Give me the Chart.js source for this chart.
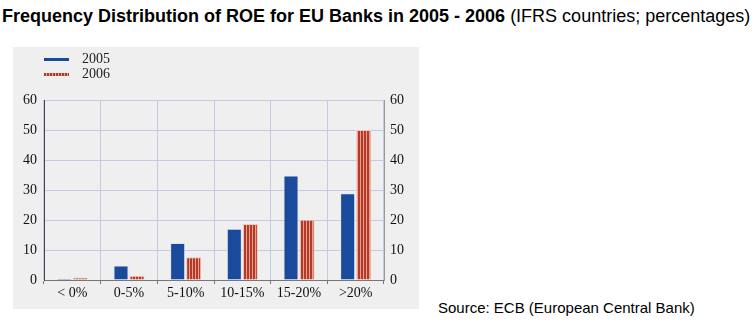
<!DOCTYPE html>
<html>
<head>
<meta charset="utf-8">
<script src="https://cdn.jsdelivr.net/npm/chart.js@4.4.0/dist/chart.umd.min.js"></script>
<style>
  html, body { margin: 0; padding: 0; background: #fff; }
  body { width: 756px; height: 330px; position: relative; overflow: hidden; font-family: "Liberation Sans", Arial, sans-serif; }
  #title { position: absolute; left: 2px; top: 6px; font-size: 18px; white-space: nowrap; color: #000; }
  #title b { font-weight: bold; }
  #panel { position: absolute; left: 13px; top: 47px; width: 406px; height: 262px; background: #efefef; }
  #chart { position: absolute; left: 0; top: 0; }
  .leg { position: absolute; left: 31px; font-family: "Liberation Serif", "Times New Roman", serif; font-size: 14px; color: #222; }
  .leg span { display: inline-block; width: 25px; height: 3px; vertical-align: middle; margin-right: 13px; }
  #source { position: absolute; left: 438px; top: 299px; font-size: 15px; color: #000; }
</style>
</head>
<body>
<div id="title"><b>Frequency Distribution of ROE for EU Banks in 2005 - 2006</b> (IFRS countries; percentages)</div>
<div id="panel">
  <canvas id="chart" width="406" height="262"></canvas>
  <div class="leg" style="top:4px"><span style="background:#1a4a9c"></span>2005</div>
  <div class="leg" style="top:19px"><span style="background:repeating-linear-gradient(90deg,#b23a2a 0 2px,#eaa08a 2px 3px)"></span>2006</div>
</div>
<div id="source">Source: ECB (European Central Bank)</div>
<script>
// categories and values
const categories = ['< 0%', '0-5%', '5-10%', '10-15%', '15-20%', '>20%'];
const roe2005 = [0.5, 4.8, 12.3, 17.1, 34.8, 28.9];
const roe2006 = [0.8, 1.4, 7.6, 18.7, 20.1, 50];
const yTicks = [0, 10, 20, 30, 40, 50, 60];

// vertical stripes for the 2006 bars
function stripePattern() {
  const c = document.createElement('canvas');
  c.width = 3; c.height = 4;
  const g = c.getContext('2d');
  g.fillStyle = '#eaa08a';
  g.fillRect(0, 0, 3, 4);
  g.fillStyle = '#b23a2a';
  g.fillRect(0, 0, 2, 4);
  return g.createPattern(c, 'repeat');
}

const tickFont = { family: '"Liberation Serif", "Times New Roman", serif', size: 14 };
const ctx = document.getElementById('chart').getContext('2d');

new Chart(ctx, {
  type: 'bar',
  data: {
    labels: categories,
    datasets: [{
      label: '2005',
      data: roe2005,
      backgroundColor: '#1a4a9c',
      borderColor: '#dfe6f2',
      borderWidth: 1,
      yAxisID: 'y'
    }, {
      label: '2006',
      data: roe2006,
      backgroundColor: stripePattern(),
      borderColor: '#f3c8b8',
      borderWidth: 1,
      yAxisID: 'y'
    }]
  },
  options: {
    responsive: false,
    animation: false,
    categoryPercentage: 0.565,
    barPercentage: 0.94,
    layout: { padding: { top: 53, bottom: 0, left: 0, right: 0 } },
    plugins: {
      legend: { display: false },
      tooltip: { enabled: false }
    },
    scales: {
      x: {
        grid: { color: '#c6c9e6', tickColor: '#777', tickLength: 4, offset: true },
        border: { color: '#777', width: 1 },
        ticks: { color: '#111', font: tickFont, padding: 1 },
        afterFit: s => { s.height = 29; }
      },
      y: {
        position: 'left',
        min: 0, max: 60,
        afterBuildTicks: s => { s.ticks = yTicks.map(v => ({ value: v })); },
        grid: { color: '#c6c9e6', drawTicks: false },
        border: { color: '#444', width: 1 },
        ticks: { color: '#111', font: tickFont, padding: 7 },
        afterFit: s => { s.width = 31; }
      },
      y2: {
        position: 'right',
        min: 0, max: 60,
        afterBuildTicks: s => { s.ticks = yTicks.map(v => ({ value: v })); },
        grid: { drawOnChartArea: false, drawTicks: false },
        border: { color: '#999', width: 1 },
        ticks: { color: '#111', font: tickFont, padding: 6 },
        afterFit: s => { s.width = 35; }
      }
    }
  }
});
</script>
</body>
</html>
